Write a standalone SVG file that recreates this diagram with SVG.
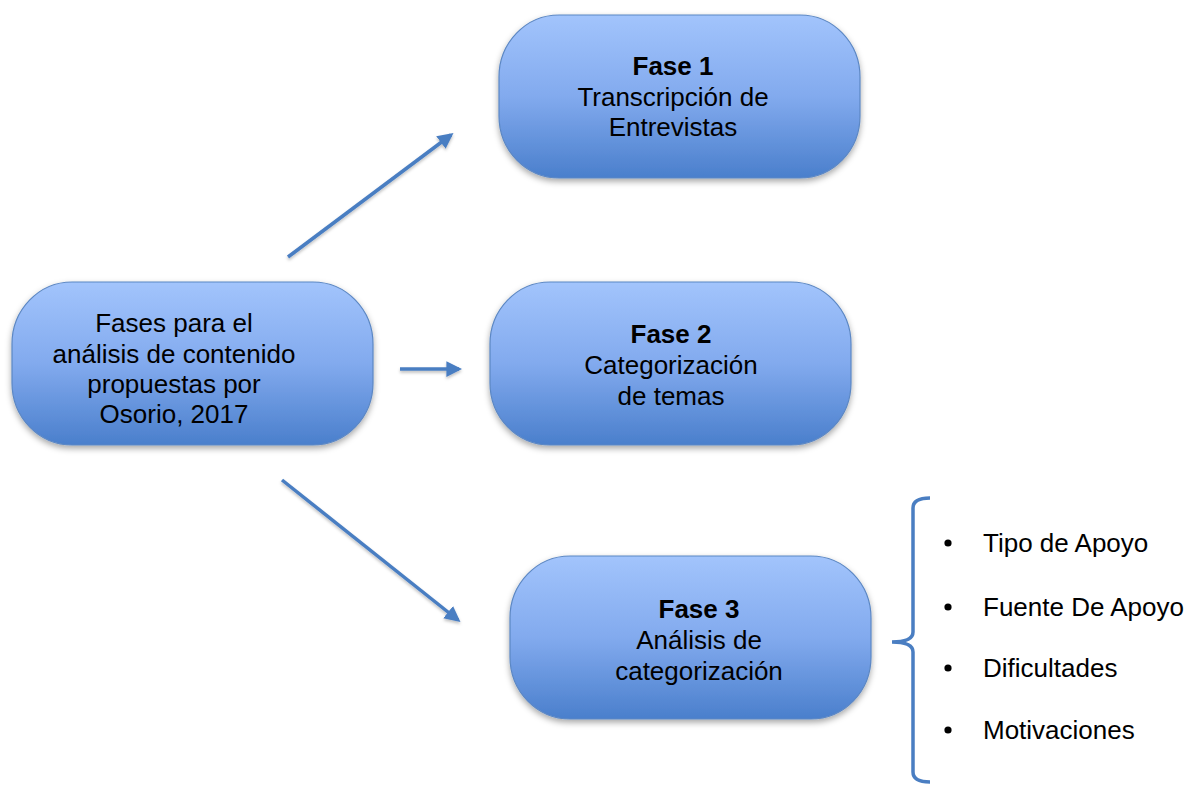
<svg xmlns="http://www.w3.org/2000/svg" width="1193" height="785" viewBox="0 0 1193 785">
<style>
.node{fill:url(#g);stroke:#5b87c4;stroke-width:1.2;filter:url(#sh)}
.t{font-family:"Liberation Sans",Arial,sans-serif;font-size:26px;fill:#000;text-anchor:middle}
.b{font-weight:bold}
.li{font-family:"Liberation Sans",Arial,sans-serif;font-size:26px;fill:#000}
.conn{stroke:#4a7ec2;stroke-width:3.5;fill:none;marker-end:url(#ah);filter:url(#ls)}
.brace{stroke:#4a7ec2;stroke-width:3.5;fill:none}
</style>
<defs>
<linearGradient id="g" x1="0" y1="0" x2="0" y2="1">
<stop offset="0" stop-color="#a2c4fc"/>
<stop offset="0.5" stop-color="#82aaee"/>
<stop offset="1" stop-color="#4a7fcc"/>
</linearGradient>
<filter id="sh" x="-10%" y="-10%" width="120%" height="130%">
<feDropShadow dx="0" dy="3" stdDeviation="3" flood-color="#000" flood-opacity="0.35"/>
</filter>
<filter id="ls" filterUnits="userSpaceOnUse" x="0" y="0" width="1193" height="785">
<feDropShadow dx="0" dy="2" stdDeviation="1.5" flood-color="#000" flood-opacity="0.25"/>
</filter>
<marker id="ah" viewBox="0 0 10 10" refX="8" refY="5" markerWidth="4.5" markerHeight="4.5" orient="auto" markerUnits="strokeWidth">
<path d="M0,0 L10,5 L0,10 Z" fill="#4a7ec2"/>
</marker>
</defs>

<g id="connectors">
<line class="conn" x1="288" y1="257" x2="451" y2="135"/>
<line class="conn" x1="400" y1="369" x2="459" y2="369"/>
<line class="conn" x1="282" y1="480" x2="458" y2="620"/>
</g>

<g id="source">
<rect class="node" x="12" y="282" width="361" height="163" rx="60" ry="62"/>
<text class="t" x="174" y="332">Fases para el</text>
<text class="t" x="174" y="363">análisis de contenido</text>
<text class="t" x="174" y="393">propuestas por</text>
<text class="t" x="174" y="423">Osorio, 2017</text>
</g>

<g id="fase1">
<rect class="node" x="499" y="15" width="361" height="163" rx="60" ry="62"/>
<text class="t b" x="673" y="75">Fase 1</text>
<text class="t" x="673" y="106">Transcripción de</text>
<text class="t" x="673" y="136">Entrevistas</text>
</g>

<g id="fase2">
<rect class="node" x="490" y="282" width="361" height="163" rx="60" ry="62"/>
<text class="t b" x="671" y="343">Fase 2</text>
<text class="t" x="671" y="374">Categorización</text>
<text class="t" x="671" y="405">de temas</text>
</g>

<g id="fase3">
<rect class="node" x="510" y="556" width="361" height="163" rx="60" ry="62"/>
<text class="t b" x="699" y="618">Fase 3</text>
<text class="t" x="699" y="649">Análisis de</text>
<text class="t" x="699" y="680">categorización</text>
</g>

<g id="list">
<path class="brace" d="M930,498 Q913,498 913,508 L913,632 Q913,642 892,642 Q913,642 913,652 L913,772 Q913,782 930,782"/>
<circle cx="948" cy="543" r="3.6"/>
<circle cx="948" cy="607" r="3.6"/>
<circle cx="948" cy="668" r="3.6"/>
<circle cx="948" cy="730" r="3.6"/>
<text class="li" x="983" y="552">Tipo de Apoyo</text>
<text class="li" x="983" y="616">Fuente De Apoyo</text>
<text class="li" x="983" y="677">Dificultades</text>
<text class="li" x="983" y="739">Motivaciones</text>
</g>
</svg>
